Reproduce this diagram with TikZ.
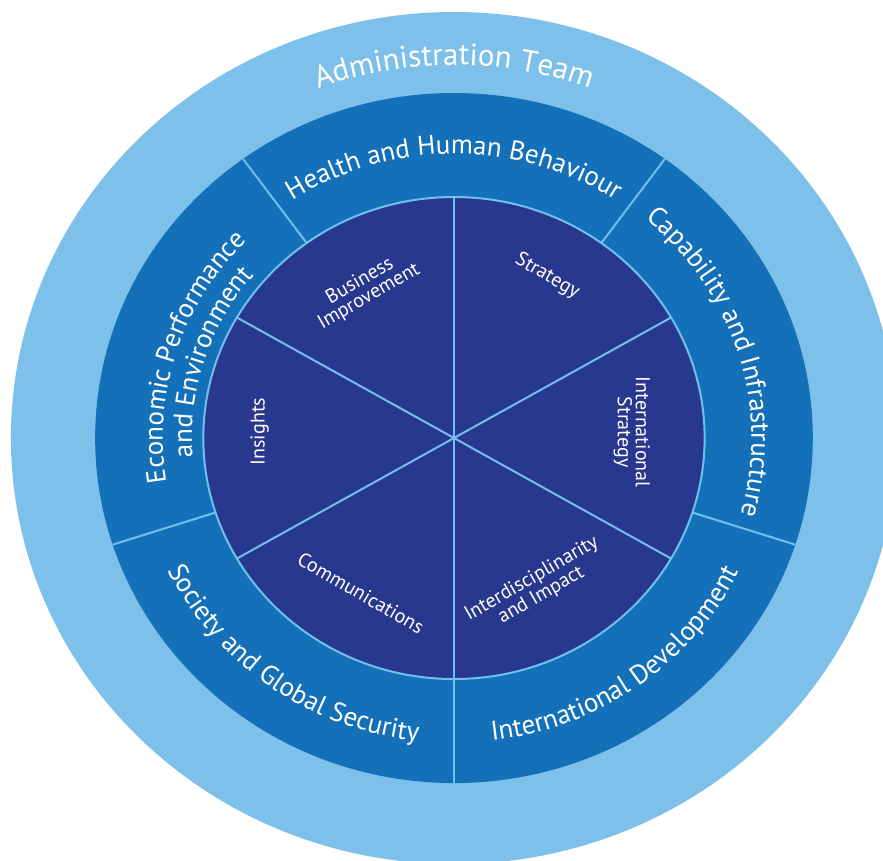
\documentclass[tikz,border=0pt]{standalone}
\usepackage{fontspec}
\setmainfont{PT Sans}
\usetikzlibrary{decorations.text}
\definecolor{ring_outer}{RGB}{125,192,234}
\definecolor{ring_mid}{RGB}{20,113,185}
\definecolor{ring_inner}{RGB}{41,56,143}
\definecolor{ring_line}{RGB}{112,192,238}
\newcommand{\ringfont}{\fontsize{27}{27}\selectfont}
\newcommand{\teamfont}{\fontsize{31}{31}\selectfont}
\tikzstyle{sep}=[draw=ring_line,line width=2pt]
\tikzstyle{inlabel}=[text=white,align=center,inner sep=0pt,
  font=\fontsize{20}{18}\selectfont]
\tikzstyle{arclabel}=[postaction={decorate},
  decoration={text along path,text align=center,text color=white}]

\begin{document}
\begin{tikzpicture}[x=1.04pt, y=1pt]
  \useasboundingbox (-436.5, -422) rectangle (412.5, 438);
  \clip (-436.5, -422) rectangle (412.5, 438);
  % rings
  \fill [ring_outer] (0, 0) circle [radius=426];
  \fill [ring_mid] (0, 0) circle [radius=345];
  \fill [ring_inner] (0, 0) circle [radius=241];
  \draw [style=sep] (0, 0) circle [radius=241];
  % middle ring borders
  \draw [style=sep] (54:241) -- (54:345);
  \draw [style=sep] (126:241) -- (126:345);
  \draw [style=sep] (198:241) -- (198:345);
  \draw [style=sep] (270:241) -- (270:345);
  \draw [style=sep] (342:241) -- (342:345);
  % inner sectors
  \draw [style=sep] (30:241) -- (210:241);
  \draw [style=sep] (90:241) -- (270:241);
  \draw [style=sep] (150:241) -- (330:241);
  % curved labels
  \path [style=arclabel, decoration={text={|\teamfont|Administration Team}}]
    (150:373) arc [start angle=150, end angle=30, radius=373];
  \path [style=arclabel, decoration={text={|\ringfont|Health and Human Behaviour}}]
    (150:284) arc [start angle=150, end angle=30, radius=284];
  \path [style=arclabel, decoration={text={|\ringfont|Capability and Infrastructure}}]
    (77:286) arc [start angle=77, end angle=-43, radius=286];
  \path [style=arclabel, decoration={text={|\ringfont|Economic Performance}}]
    (230:280) arc [start angle=230, end angle=95, radius=280];
  \path [style=arclabel, decoration={text={|\ringfont|and Environment}}]
    (230:252) arc [start angle=230, end angle=95, radius=252];
  \path [style=arclabel, decoration={text={|\ringfont|Society and Global Security}}]
    (174:305) arc [start angle=174, end angle=294, radius=305];
  \path [style=arclabel, decoration={text={|\ringfont|International Development}}]
    (246:305) arc [start angle=246, end angle=366, radius=305];
  % sector labels
  \node [style=inlabel, rotate=30] (0) at (120:172) {Business\\Improvement};
  \node [style=inlabel, rotate=-30] (1) at (61:185) {Strategy};
  \node [style=inlabel, rotate=-90] (2) at (2:171) {International\\Strategy};
  \node [style=inlabel, rotate=30] (3) at (298:169) {Interdisciplinarity\\and Impact};
  \node [style=inlabel, rotate=-30] (4) at (240:179) {Communications};
  \node [style=inlabel, rotate=90] (5) at (178:187) {Insights};
\end{tikzpicture}
\end{document}
